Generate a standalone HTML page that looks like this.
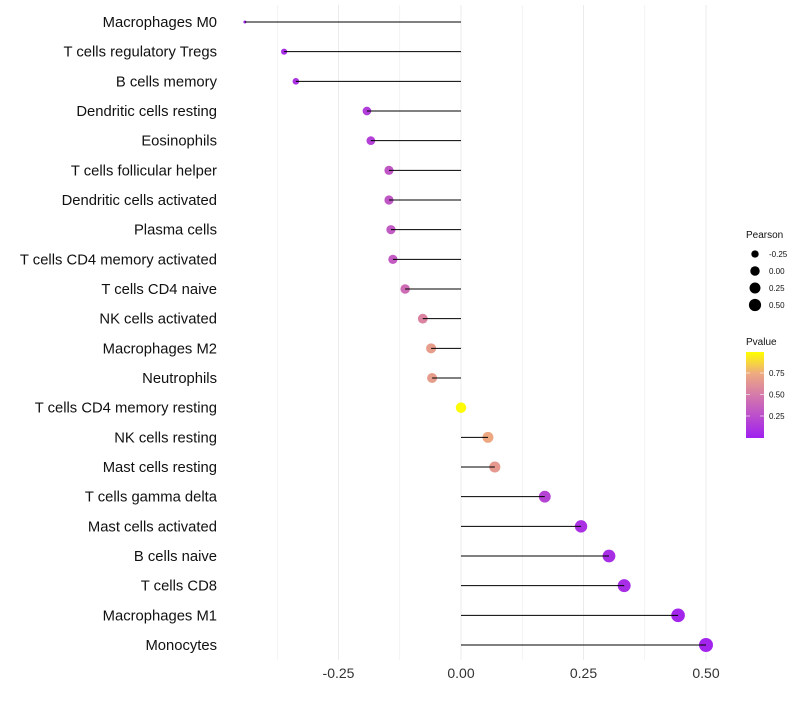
<!DOCTYPE html>
<html><head><meta charset="utf-8"><style>
body{margin:0;background:#fff;font-family:"Liberation Sans",sans-serif}
</style></head><body>
<svg id="chart" width="800" height="700" xmlns="http://www.w3.org/2000/svg" font-family="Liberation Sans, sans-serif">
<defs><linearGradient id="pg" x1="0" y1="1" x2="0" y2="0">
<stop offset="0" stop-color="#a020f0"/><stop offset="0.5" stop-color="#d57aaa"/><stop offset="0.75" stop-color="#eeaa80"/><stop offset="1" stop-color="#ffff00"/></linearGradient></defs>
<g id="grid"></g><g id="marks"></g><g id="labels"></g><g id="legend"></g>
</svg>
<script>
const categories=["Macrophages M0","T cells regulatory  Tregs","B cells memory","Dendritic cells resting","Eosinophils","T cells follicular helper","Dendritic cells activated","Plasma cells","T cells CD4 memory activated","T cells CD4 naive","NK cells activated","Macrophages M2","Neutrophils","T cells CD4 memory resting","NK cells resting","Mast cells resting","T cells gamma delta","Mast cells activated","B cells naive","T cells CD8","Macrophages M1","Monocytes"];
const pearson=[-0.441,-0.361,-0.337,-0.192,-0.184,-0.147,-0.147,-0.143,-0.139,-0.114,-0.078,-0.061,-0.059,0.0,0.055,0.069,0.171,0.245,0.302,0.333,0.443,0.5];
const pvalue=[0.02,0.08,0.1,0.16,0.18,0.3,0.3,0.32,0.33,0.42,0.55,0.68,0.68,0.99,0.74,0.66,0.2,0.1,0.08,0.07,0.03,0.02];
const xTicks=[-0.25,0,0.25,0.5];
const xTickLabels=["-0.25","0.00","0.25","0.50"];
const sizeLegend=[-0.25,0,0.25,0.5];
const sizeLegendLabels=["-0.25","0.00","0.25","0.50"];
const colorLegend=[0.25,0.5,0.75];
const colorLegendLabels=["0.25","0.50","0.75"];

const NS="http://www.w3.org/2000/svg";
const X=v=>461+v*490;
const Y=i=>22+i*(623/21);
const R=v=>1.5+5.5*Math.sqrt(Math.max(0,(v+0.441)/0.941));
const stops=[[0,[160,32,240]],[0.5,[213,122,170]],[0.75,[238,170,128]],[1,[255,255,0]]];
function col(p){for(let i=1;i<stops.length;i++){if(p<=stops[i][0]){const a=stops[i-1],b=stops[i],t=(p-a[0])/(b[0]-a[0]);return 'rgb('+a[1].map((c,k)=>Math.round(c+(b[1][k]-c)*t)).join(',')+')';}}return 'rgb(255,255,0)';}
function mk(tag,attrs,parent,text){const e=document.createElementNS(NS,tag);for(const k in attrs)e.setAttribute(k,attrs[k]);if(text!==undefined)e.textContent=text;parent.appendChild(e);return e;}
const grid=document.getElementById('grid'),marks=document.getElementById('marks'),labels=document.getElementById('labels'),legend=document.getElementById('legend');
for(let v=-0.375;v<=0.5;v+=0.125){const g=mk('line',{x1:X(v),x2:X(v),y1:5,y2:660,stroke:'#ebebeb','stroke-width':(Math.abs(v*4-Math.round(v*4))<1e-6)?1:0.6},grid);

}
xTicks.forEach((v,i)=>{const t=mk('text',{x:X(v),y:678,'text-anchor':'middle','font-size':14,fill:'#333'},labels,xTickLabels[i]);

});
categories.forEach((c,i)=>{
const t=mk('text',{x:217,y:Y(i)+5,'text-anchor':'end','font-size':14.8,fill:'#111'},labels,c);


const d=mk('circle',{cx:X(pearson[i]),cy:Y(i),r:R(pearson[i]),fill:col(pvalue[i])},marks);


const l=mk('line',{x1:X(0),x2:X(pearson[i]),y1:Y(i),y2:Y(i),stroke:'#000','stroke-width':1},marks);


});
mk('text',{x:746,y:238,'font-size':10,fill:'#111'},legend,'Pearson');
sizeLegend.forEach((v,i)=>{const y=254+i*17;
const c=mk('circle',{cx:755,cy:y,r:R(v)*0.8+0.5,fill:'#000'},legend);


mk('text',{x:769,y:y+3,'font-size':8,fill:'#111'},legend,sizeLegendLabels[i]);});
mk('text',{x:746,y:345,'font-size':10,fill:'#111'},legend,'Pvalue');
const bar=mk('rect',{x:746,y:352,width:18,height:86,fill:'url(#pg)'},legend);


colorLegend.forEach((p,i)=>{const y=437.5-p*86;
mk('line',{x1:746,x2:750,y1:y,y2:y,stroke:'#fff','stroke-width':0.6},legend);
mk('line',{x1:760,x2:764,y1:y,y2:y,stroke:'#fff','stroke-width':0.6},legend);
mk('text',{x:769,y:y+3,'font-size':8,fill:'#111'},legend,colorLegendLabels[i]);});
</script>
</body></html>
